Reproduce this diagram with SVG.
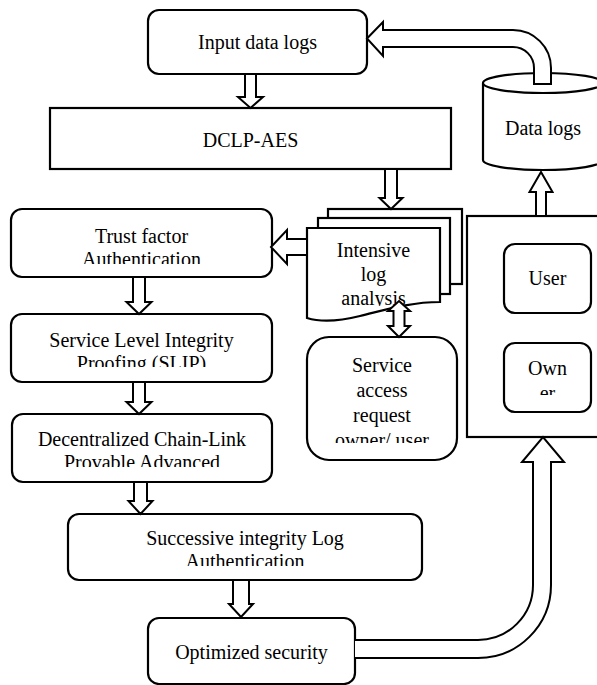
<svg xmlns="http://www.w3.org/2000/svg" width="597" height="685" viewBox="0 0 597 685">
<style>
.box{fill:#fff;stroke:#000;stroke-width:2.2}
.arr{fill:#fff;stroke:#000;stroke-width:2;stroke-linejoin:miter}
.t{font-family:"Liberation Serif","Times New Roman",serif;font-size:20px;fill:#000;text-anchor:middle}
</style>
<defs>
<clipPath id="cTrust"><rect x="11" y="209" width="261" height="55"/></clipPath>
<clipPath id="cSlip"><rect x="11" y="314" width="261" height="53"/></clipPath>
<clipPath id="cDec"><rect x="12" y="414" width="260" height="53"/></clipPath>
<clipPath id="cSucc"><rect x="68" y="514" width="354" height="52"/></clipPath>
<clipPath id="cInt"><rect x="307" y="228" width="133" height="78"/></clipPath>
<clipPath id="cServ"><rect x="307" y="337" width="150" height="106"/></clipPath>
<clipPath id="cOwn"><rect x="504" y="343" width="87" height="52"/></clipPath>
</defs>
<rect width="597" height="685" fill="#fff"/>
<g id="input">
<rect class="box" x="148" y="10" width="219" height="64" rx="11"/>
<text class="t" x="257.5" y="49">Input data logs</text>
</g>
<g id="dclp">
<rect class="box" x="50" y="108" width="401" height="61"/>
<text class="t" x="250.5" y="147">DCLP-AES</text>
</g>
<g id="datalogs">
<path class="box" d="M483,83 L483,160 A60,10 0 0 0 603,160 L603,83"/>
<ellipse class="box" cx="543" cy="83" rx="60" ry="10"/>
<text class="t" x="543" y="135">Data logs</text>
</g>
<g id="intensive">
<rect class="box" x="328" y="209" width="134" height="75"/>
<rect class="box" x="318" y="218" width="132" height="76"/>
<path class="box" d="M307,228 H440 V302 C410,302 385,310 360,316 C340,321 320,322 307,318 Z"/>
<g clip-path="url(#cInt)">
<text class="t" x="373.5" y="257">Intensive</text>
<text class="t" x="373.5" y="281">log</text>
<text class="t" x="373.5" y="305">analysis</text>
</g>
</g>
<g id="trust">
<rect class="box" x="11" y="209" width="261" height="68" rx="11"/>
<g clip-path="url(#cTrust)">
<text class="t" x="141.5" y="243">Trust factor</text>
<text class="t" x="141.5" y="266">Authentication</text>
</g>
</g>
<g id="slip">
<rect class="box" x="11" y="314" width="261" height="68" rx="11"/>
<g clip-path="url(#cSlip)">
<text class="t" x="141.5" y="347">Service Level Integrity</text>
<text class="t" x="141.5" y="370">Proofing (SLIP)</text>
</g>
</g>
<g id="decentralized">
<rect class="box" x="12" y="414" width="260" height="68" rx="11"/>
<g clip-path="url(#cDec)">
<text class="t" x="142" y="446">Decentralized Chain-Link</text>
<text class="t" x="142" y="469">Provable Advanced</text>
</g>
</g>
<g id="successive">
<rect class="box" x="68" y="514" width="354" height="66" rx="11"/>
<g clip-path="url(#cSucc)">
<text class="t" x="245" y="545">Successive integrity Log</text>
<text class="t" x="245" y="568">Authentication</text>
</g>
</g>
<g id="optimized">
<rect class="box" x="148" y="618" width="207" height="66" rx="11"/>
<text class="t" x="251.5" y="659">Optimized security</text>
</g>
<g id="service">
<rect class="box" x="307" y="337" width="150" height="123" rx="22"/>
<g clip-path="url(#cServ)">
<text class="t" x="382" y="372">Service</text>
<text class="t" x="382" y="397">access</text>
<text class="t" x="382" y="422">request</text>
<text class="t" x="382" y="447">owner/ user</text>
</g>
</g>
<g id="panel">
<rect class="box" x="467" y="216" width="200" height="221"/>
</g>
<g id="user">
<rect class="box" x="504" y="244" width="87" height="69" rx="11"/>
<text class="t" x="547.5" y="285">User</text>
</g>
<g id="owner">
<rect class="box" x="504" y="343" width="87" height="69" rx="11"/>
<g clip-path="url(#cOwn)">
<text class="t" x="547.5" y="375">Own</text>
<text class="t" x="547.5" y="400">er</text>
</g>
</g>
<g id="connectors">
<polygon class="arr" points="245,74 256,74 256,97 263,97 250.5,108 238,97 245,97"/>
<polygon class="arr" points="385,169 397,169 397,198 402.5,198 391,209 379.5,198 385,198"/>
<polygon class="arr" points="307,239 287,239 287,230 271,247 287,264 287,255 307,255"/>
<polygon class="arr" points="133,277 145,277 145,302 151.5,302 139,314 126.5,302 133,302"/>
<polygon class="arr" points="133,382 145,382 145,402 151.5,402 139,414 126.5,402 133,402"/>
<polygon class="arr" points="134,482 147,482 147,501 152.5,501 140.5,514 128.5,501 134,501"/>
<polygon class="arr" points="233,580 249,580 249,604 253,604 241,617 229,604 233,604"/>
<polygon class="arr" points="536,216 546,216 546,192 552.5,192 541,172 529.5,192 536,192"/>
<polygon class="arr" points="399,301 410,311 404.5,311 404.5,326 410,326 399,337 388,326 393.5,326 393.5,311 388,311"/>
<path class="arr" d="M367,38.5 L383,22 L383,30 L513,30 A38,38 0 0 1 551,68 L551,84 L534,84 L534,68 A21,21 0 0 0 513,47 L383,47 L383,56 Z"/>
<path class="arr" d="M355,640 L478,640 A55,55 0 0 0 533,585 L533,462 L522,462 L543,437 L564,462 L551,462 L551,585 A73,73 0 0 1 478,658 L355,658"/>
</g>
</svg>
